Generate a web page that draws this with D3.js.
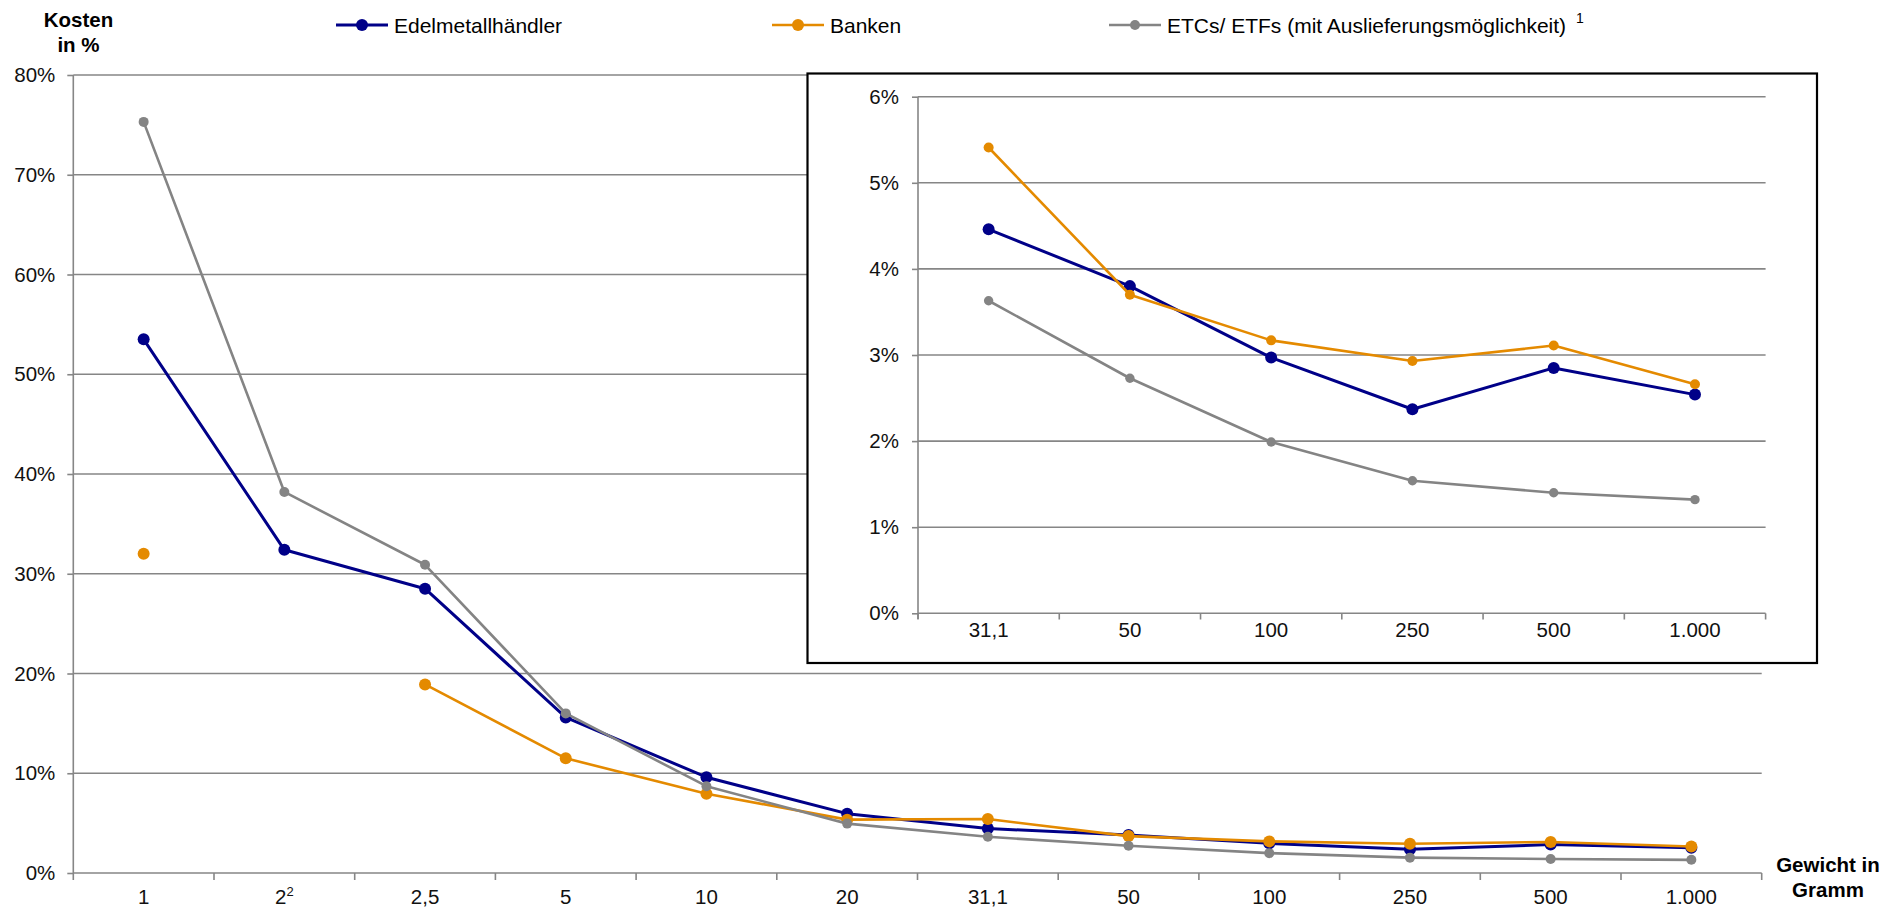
<!DOCTYPE html>
<html>
<head>
<meta charset="utf-8">
<script src="https://cdn.jsdelivr.net/npm/d3@7"></script>
<style>
  html, body { margin: 0; padding: 0; background: #fff; }
  svg { display: block; font-family: "Liberation Sans", Arial, sans-serif; }
</style>
</head>
<body>
<svg id="chart" width="1893" height="909"></svg>
<script>
// ---- Data ----
const categories = ["1", "2²", "2,5", "5", "10", "20", "31,1", "50", "100", "250", "500", "1.000"];
const edelmetall = [53.5, 32.4, 28.5, 15.6, 9.6, 5.95, 4.46, 3.80, 2.97, 2.37, 2.85, 2.54];
const banken     = [32.0, null, 18.9, 11.5, 7.95, 5.35, 5.41, 3.70, 3.17, 2.93, 3.11, 2.66];
const etcs       = [75.3, 38.2, 30.9, 16.0, 8.7, 4.95, 3.63, 2.73, 1.99, 1.54, 1.40, 1.32];
const seriesNames = ["Edelmetallhändler", "Banken", "ETCs/ ETFs (mit Auslieferungsmöglichkeit)"];
const mainTicks = [0, 10, 20, 30, 40, 50, 60, 70, 80];
const insetCategories = ["31,1", "50", "100", "250", "500", "1.000"];
const insetTicks = [0, 1, 2, 3, 4, 5, 6];
const yAxisTitle = ["Kosten", "in %"];
const xAxisTitle = ["Gewicht in", "Gramm"];
const legendFootnote = "1";

const colors = ["#000088", "#E48A00", "#848484"];
const lineWidths = [3, 2.6, 2.6];
const mainRadii = [6, 6, 5];
const insetRadii = [6, 5, 4.7];
const allSeries = [edelmetall, banken, etcs];

const svg = d3.select("#chart");
const gridColor = "#868686";
const fontSize = 20.5;

// ---- Main chart ----
const x = d3.scaleBand().domain(categories).range([73.3, 1761.7]);
const y = d3.scaleLinear().domain([0, 80]).range([873, 75]);

const gMain = svg.append("g");
gMain.selectAll("line.grid").data(mainTicks.filter(t => t > 0)).join("line")
  .attr("x1", 73.3).attr("x2", 1761.7)
  .attr("y1", d => y(d)).attr("y2", d => y(d))
  .attr("stroke", gridColor).attr("stroke-width", 1.6);

const yAxis = d3.axisLeft(y).tickValues(mainTicks).tickFormat(d => d + "%").tickSize(6).tickPadding(12);
const gy = gMain.append("g").attr("transform", "translate(73.3,0)").call(yAxis);
gy.select(".domain").attr("stroke", gridColor).attr("stroke-width", 1.6).attr("d", "M0,873V75");
gy.selectAll(".tick line").attr("stroke", gridColor).attr("stroke-width", 1.6);
gy.selectAll(".tick text").attr("font-size", fontSize).attr("fill", "#111").attr("font-family", "Liberation Sans, Arial, sans-serif");

const boundaries = categories.map(c => x(c)).concat([x.range()[1]]);
gMain.append("line").attr("x1", 73.3).attr("x2", 1761.7).attr("y1", 873).attr("y2", 873)
  .attr("stroke", gridColor).attr("stroke-width", 1.6);
gMain.selectAll("line.xt").data(boundaries).join("line")
  .attr("x1", d => d).attr("x2", d => d).attr("y1", 873).attr("y2", 880)
  .attr("stroke", gridColor).attr("stroke-width", 1.6);
const xl = gMain.selectAll("text.xl").data(categories).join("text")
  .attr("x", d => x(d) + x.bandwidth() / 2).attr("y", 903.5)
  .attr("text-anchor", "middle").attr("font-size", fontSize).attr("fill", "#111");
xl.each(function(d) {
  const t = d3.select(this);
  if (d.includes("²")) {
    t.append("tspan").text(d.replace("²", ""));
    t.append("tspan").attr("dy", -8).attr("font-size", 13).text("2");
  } else t.text(d);
});

const mainLine = d3.line().defined(d => d.v !== null)
  .x(d => x(d.c) + x.bandwidth() / 2).y(d => y(d.v));
allSeries.forEach((vals, i) => {
  const pts = categories.map((c, j) => ({ c, v: vals[j] }));
  gMain.append("path").datum(pts).attr("d", mainLine)
    .attr("fill", "none").attr("stroke", colors[i]).attr("stroke-width", lineWidths[i])
    .attr("stroke-linejoin", "round");
  gMain.selectAll(null).data(pts.filter(p => p.v !== null)).join("circle")
    .attr("cx", d => x(d.c) + x.bandwidth() / 2).attr("cy", d => y(d.v))
    .attr("r", mainRadii[i]).attr("fill", colors[i]);
});

svg.append("text").attr("x", 78.5).attr("y", 26.5).attr("text-anchor", "middle")
  .attr("font-weight", "bold").attr("font-size", 20.5).attr("fill", "#000")
  .selectAll("tspan").data(yAxisTitle).join("tspan")
  .attr("x", 78.5).attr("dy", (d, i) => i === 0 ? 0 : 25).text(d => d);
svg.append("text").attr("x", 1828).attr("y", 871.5).attr("text-anchor", "middle")
  .attr("font-weight", "bold").attr("font-size", 20.5).attr("fill", "#000")
  .selectAll("tspan").data(xAxisTitle).join("tspan")
  .attr("x", 1828).attr("dy", (d, i) => i === 0 ? 0 : 25).text(d => d);

// ---- Legend ----
const legendX = [336, 772, 1109];
const leg = svg.append("g");
seriesNames.forEach((name, i) => {
  const g = leg.append("g").attr("transform", `translate(${legendX[i]},25)`);
  g.append("line").attr("x1", 0).attr("x2", 52).attr("y1", 0).attr("y2", 0)
    .attr("stroke", colors[i]).attr("stroke-width", lineWidths[i]);
  g.append("circle").attr("cx", 26).attr("cy", 0).attr("r", mainRadii[i]).attr("fill", colors[i]);
  const t = g.append("text").attr("x", 58).attr("y", 7.5).attr("font-size", 21).attr("fill", "#000").text(name);
  if (i === 2) {
    t.append("tspan").attr("dx", 10).attr("dy", -10).attr("font-size", 14).text(legendFootnote);
  }
});

// ---- Inset ----
const gIn = svg.append("g");
gIn.append("rect").attr("x", 807.5).attr("y", 73.5).attr("width", 1009.5).attr("height", 589.5)
  .attr("fill", "#fff").attr("stroke", "#000").attr("stroke-width", 2.2);

const xi = d3.scaleBand().domain(insetCategories).range([918, 1765.6]);
const yi = d3.scaleLinear().domain([0, 6]).range([613.3, 96.7]);

gIn.selectAll("line.grid").data(insetTicks.filter(t => t > 0)).join("line")
  .attr("x1", 918).attr("x2", 1765.6)
  .attr("y1", d => yi(d)).attr("y2", d => yi(d))
  .attr("stroke", gridColor).attr("stroke-width", 1.6);
const yiAxis = d3.axisLeft(yi).tickValues(insetTicks).tickFormat(d => d + "%").tickSize(6).tickPadding(13);
const gyi = gIn.append("g").attr("transform", "translate(918,0)").call(yiAxis);
gyi.select(".domain").attr("stroke", gridColor).attr("stroke-width", 1.6).attr("d", "M0,619V96.7");
gyi.selectAll(".tick line").attr("stroke", gridColor).attr("stroke-width", 1.6);
gyi.selectAll(".tick text").attr("font-size", fontSize).attr("fill", "#111").attr("font-family", "Liberation Sans, Arial, sans-serif");

const bi = insetCategories.map(c => xi(c)).concat([xi.range()[1]]);
gIn.append("line").attr("x1", 918).attr("x2", 1765.6).attr("y1", 613.3).attr("y2", 613.3)
  .attr("stroke", gridColor).attr("stroke-width", 1.6);
gIn.selectAll("line.xt").data(bi).join("line")
  .attr("x1", d => d).attr("x2", d => d).attr("y1", 613.3).attr("y2", 619.5)
  .attr("stroke", gridColor).attr("stroke-width", 1.6);
gIn.selectAll("text.xl").data(insetCategories).join("text")
  .attr("x", d => xi(d) + xi.bandwidth() / 2).attr("y", 636.5)
  .attr("text-anchor", "middle").attr("font-size", fontSize).attr("fill", "#111").text(d => d);

const insetLine = d3.line().x(d => xi(d.c) + xi.bandwidth() / 2).y(d => yi(d.v));
allSeries.forEach((vals, i) => {
  const pts = insetCategories.map(c => ({ c, v: vals[categories.indexOf(c)] }));
  gIn.append("path").datum(pts).attr("d", insetLine)
    .attr("fill", "none").attr("stroke", colors[i]).attr("stroke-width", lineWidths[i])
    .attr("stroke-linejoin", "round");
  gIn.selectAll(null).data(pts).join("circle")
    .attr("cx", d => xi(d.c) + xi.bandwidth() / 2).attr("cy", d => yi(d.v))
    .attr("r", insetRadii[i]).attr("fill", colors[i]);
});
</script>
</body>
</html>
